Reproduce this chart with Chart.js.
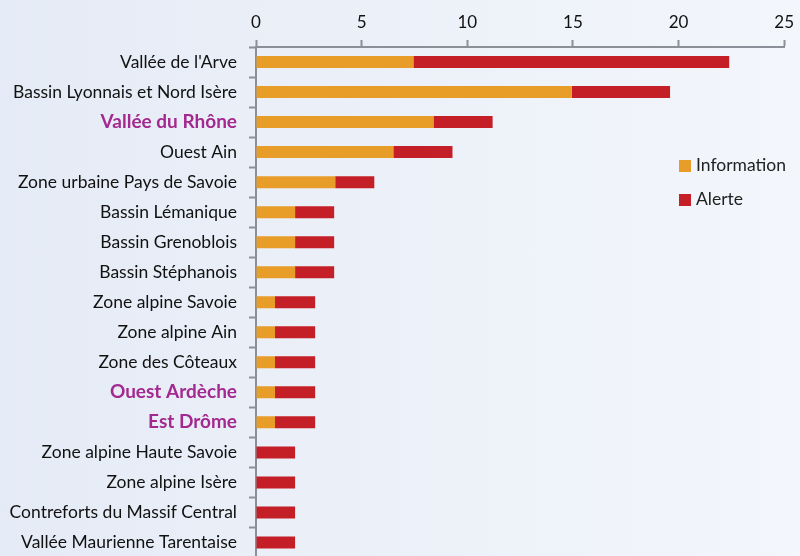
<!DOCTYPE html>
<html>
<head>
<meta charset="utf-8">
<script src="https://cdn.jsdelivr.net/npm/chart.js@4/dist/chart.umd.min.js"></script>
<style>
  html,body{ margin:0; padding:0; overflow:hidden; }
  body{ width:800px; height:556px; background:linear-gradient(to right,#e5ebf6,#f3f6fb); font-family:Lato,sans-serif; }
  #wrap{ position:relative; width:800px; height:556px; overflow:hidden; }
  #legend{ position:absolute; left:679px; top:154px; font-size:17.5px; color:#222; }
  #legend div{ height:34px; display:flex; align-items:flex-start; }
  #legend span.box{ display:inline-block; width:12px; height:12px; margin:6px 5px 0 0; }
</style>
</head>
<body>
<div id="wrap">
  <canvas id="chart" width="801" height="580"></canvas>
  <div id="legend">
    <div><span class="box" style="background:#e99d29"></span>Information</div>
    <div><span class="box" style="background:#c41f26"></span>Alerte</div>
  </div>
</div>
<script>
// données
const zones = [
  "Vallée de l'Arve", 'Bassin Lyonnais et Nord Isère', 'Vallée du Rhône', 'Ouest Ain',
  'Zone urbaine Pays de Savoie', 'Bassin Lémanique', 'Bassin Grenoblois', 'Bassin Stéphanois',
  'Zone alpine Savoie', 'Zone alpine Ain', 'Zone des Côteaux', 'Ouest Ardèche', 'Est Drôme',
  'Zone alpine Haute Savoie', 'Zone alpine Isère', 'Contreforts du Massif Central', 'Vallée Maurienne Tarentaise'
];
const information = [7.45, 14.95, 8.4, 6.5, 3.75, 1.85, 1.85, 1.85, 0.9, 0.9, 0.9, 0.9, 0.9, 0, 0, 0, 0];
const alerte      = [14.95, 4.65, 2.8, 2.8, 1.85, 1.85, 1.85, 1.85, 1.9, 1.9, 1.9, 1.9, 1.9, 1.85, 1.85, 1.85, 1.85];
const highlighted = ['Vallée du Rhône', 'Ouest Ardèche', 'Est Drôme'];
const xTicks = [0, 5, 10, 15, 20, 25];

const axisGrey = '#8b9098';

new Chart(document.getElementById('chart'), {
  type:'bar',
  data:{
    labels: zones,
    datasets:[
      { label:'Information', data: information, backgroundColor:'#e99d29',
        categoryPercentage:1, barPercentage:0.4 },
      { label:'Alerte', data: alerte, backgroundColor:'#c41f26',
        categoryPercentage:1, barPercentage:0.4 }
    ]
  },
  options:{
    indexAxis:'y',
    responsive:false,
    animation:false,
    layout:{ padding:0 },
    plugins:{ legend:{ display:false }, tooltip:{ enabled:false } },
    scales:{
      x:{
        position:'top',
        stacked:true,
        min:0, max:xTicks[xTicks.length-1],
        afterBuildTicks: s=>{ s.ticks = xTicks.map(v=>({ value:v })); },
        afterFit: s=>{ s.height = 47; },
        border:{ color: axisGrey, width:2 },
        grid:{ drawOnChartArea:false, tickLength:7, color: axisGrey, tickWidth:2 },
        ticks:{ color:'#111', padding:7, font:{ family:'Lato', size:17 } }
      },
      y:{
        stacked:true,
        afterFit: s=>{ s.width = 256; },
        border:{ color: axisGrey, width:2 },
        grid:{ drawOnChartArea:false, offset:true, tickLength:7, color: axisGrey, tickWidth:2 },
        ticks:{
          padding:12,
          color: ctx=> highlighted.includes(zones[ctx.index]) ? '#a3288f' : '#111',
          font: ctx=> highlighted.includes(zones[ctx.index])
            ? { family:'Lato', size:19, weight:'bold' }
            : { family:'Lato', size:17.5 }
        }
      }
    }
  }
});
</script>
</body>
</html>
